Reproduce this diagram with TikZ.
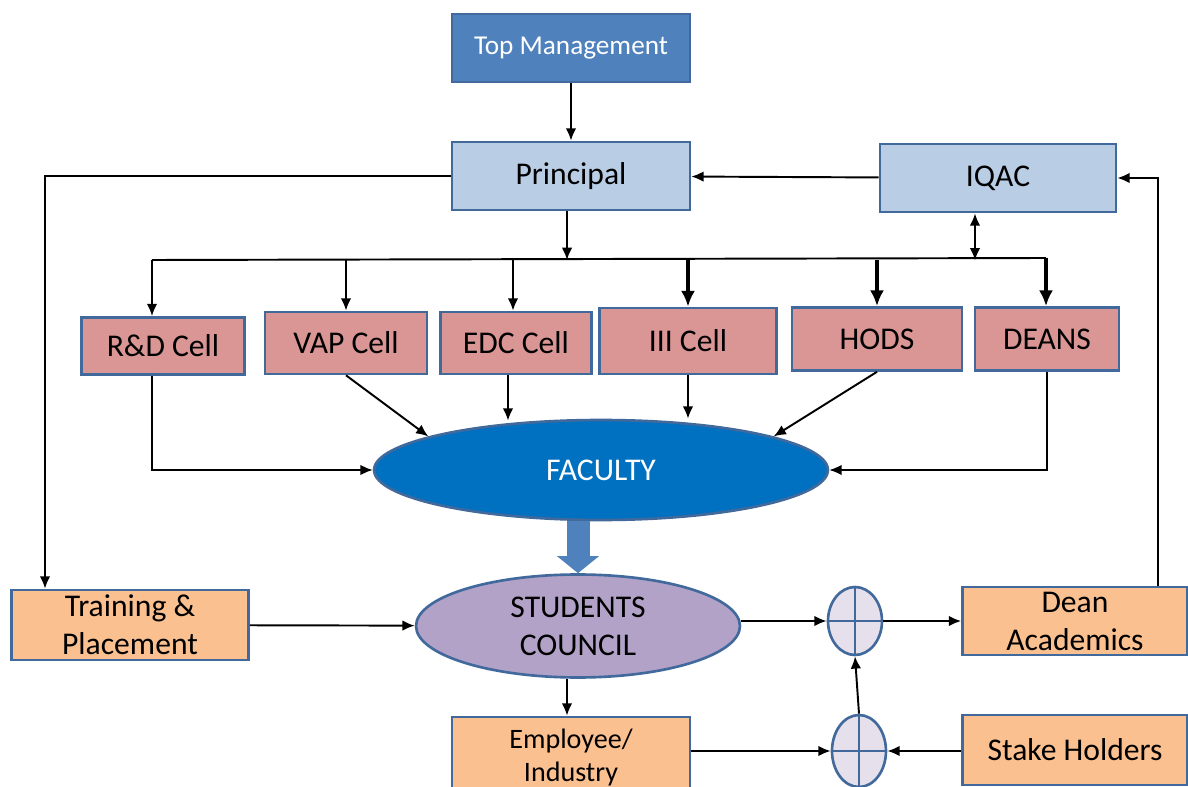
\documentclass[tikz,border=0pt]{standalone}
\usepackage{fontspec}
\setmainfont{Carlito}
\usetikzlibrary{arrows.meta, shapes.geometric, positioning, calc}
\definecolor{topblue}{HTML}{4F81BD}
\definecolor{edgeblue}{HTML}{41699C}
\definecolor{lightblue}{HTML}{B9CDE5}
\definecolor{cellpink}{HTML}{D99694}
\definecolor{orangefill}{HTML}{FAC090}
\definecolor{facblue}{HTML}{0070C0}
\definecolor{purplefill}{HTML}{B3A2C7}
\definecolor{plusfill}{HTML}{E6E0EC}

\begin{document}
\begin{tikzpicture}[x=0.02cm, y=-0.02cm,
	every node/.style={font=\fontsize{18}{21.6}\selectfont, align=center, inner sep=0pt},
	box/.style={rectangle, draw=edgeblue, line width=1.5pt},
	bluebox/.style={box, fill=lightblue, minimum width=4.76cm, minimum height=1.36cm},
	cellbox/.style={box, fill=cellpink},
	orangebox/.style={box, fill=orangefill},
	oval/.style={ellipse, draw=edgeblue, line width=1.5pt},
	plusnode/.style={ellipse, draw=edgeblue, fill=plusfill, line width=1.5pt,
		minimum width=1.08cm, path picture={
			\draw[edgeblue, line width=1.5pt] (path picture bounding box.north) -- (path picture bounding box.south);
			\draw[edgeblue, line width=1.5pt] (path picture bounding box.west) -- (path picture bounding box.east);}},
	arr/.style={line width=1.1pt, -{Latex[length=7pt, width=6pt]}},
	thickarr/.style={line width=2.4pt, -{Latex[length=9pt, width=8pt]}},
	blockarr/.style={line width=0.46cm, topblue, -{Triangle[length=0.34cm, width=0.82cm]}}]
	\useasboundingbox (0,0) rectangle (1188,787);
	
	% top part
	\node[box, fill=topblue, text=white, minimum width=4.76cm, minimum height=1.36cm,
		font=\fontsize{15.5}{18}\selectfont] (top) at (571,48) {Top Management};
	\node[bluebox] (pr) at (571,176) {Principal};
	\node[bluebox, minimum width=4.72cm] (iqac) at (998,178) {IQAC};
	
	% cells
	\node[cellbox, minimum width=3.26cm, minimum height=1.14cm] (rd) at (163,346) {R\&D Cell};
	\node[cellbox, minimum width=3.24cm, minimum height=1.24cm] (vap) at (346,343) {VAP Cell};
	\node[cellbox, minimum width=3.02cm, minimum height=1.24cm] (edc) at (516,343) {EDC Cell};
	\node[cellbox, minimum width=3.54cm, minimum height=1.32cm] (iii) at (688,341) {III Cell};
	\node[cellbox, minimum width=3.40cm, minimum height=1.26cm] (hods) at (877,339) {HODS};
	\node[cellbox, minimum width=2.88cm, minimum height=1.26cm] (deans) at (1047,339) {DEANS};
	
	\node[oval, fill=facblue, text=white, minimum width=9.08cm, minimum height=2cm,
		font=\fontsize{18}{21}\selectfont] (fac) at (601,470) {FACULTY};
	
	% lower part
	\node[oval, fill=purplefill, minimum width=6.48cm, minimum height=2.06cm] (sc) at (578,626) {STUDENTS\\COUNCIL};
	\node[orangebox, minimum width=4.74cm, minimum height=1.4cm] (tp) at (130,625) {Training \&\\Placement};
	\node[plusnode, minimum height=1.36cm] (plus1) at (855,621) {};
	\node[orangebox, minimum width=4.5cm, minimum height=1.36cm] (da) at (1075,621) {Dean\\Academics};
	\node[orangebox, minimum width=4.76cm, minimum height=1.6cm, text depth=2pt,
		font=\fontsize{16}{19}\selectfont] (emp) at (571,757) {Employee/\\Industry};
	\node[plusnode, minimum height=1.44cm] (plus2) at (859,751) {};
	\node[orangebox, minimum width=4.5cm, minimum height=1.4cm] (sh) at (1075,750) {Stake Holders};
	
	\coordinate (busL) at (152,260);
	\coordinate (busR) at (1046,258);
	
	% connectors
	\draw[arr] (top) -- (pr);
	\draw[arr] ($(pr.south)+(-4,0)$) -- ($(pr.south |- busL)+(-4,0)$);
	\draw[line width=1.1pt] (busL) -- (busR);
	\draw[arr, {Latex[length=7pt, width=6pt]}-{Latex[length=7pt, width=6pt]}] ($(iqac.south)+(-23,0)$) -- ($(iqac.south)+(-23,47)$);
	\draw[arr] (busL) -- (busL |- rd.north);
	\draw[arr] (busL -| vap.north) -- (vap.north);
	\draw[arr] ($(busL -| edc.north)+(-3,0)$) -- ($(edc.north)+(-3,0)$);
	\draw[thickarr] (busL -| iii.north) -- (iii.north);
	\draw[thickarr] (busL -| hods.north) -- (hods.north);
	\draw[thickarr] (busR) -- (busR |- deans.north);
	\draw[arr] (iqac) -- (pr);
	
	\draw[arr] (busL |- rd.south) |- (fac.west);
	\draw[arr] (vap.south) -- (fac.169);
	\draw[arr] ($(edc.south)+(-8,0)$) -- ($(edc.south |- fac.north)+(-8,2)$);
	\draw[arr] (iii.south) -- (iii.south |- fac.north);
	\draw[arr] (hods.south) -- (fac.11);
	\draw[arr] (deans.south) |- (fac.east);
	
	\draw[blockarr] (fac.south -| sc.north) -- (sc.north);
	\draw[arr] (pr.west) -| ($(tp.north)+(-85,0)$);
	\draw[arr] (tp) -- (sc);
	\draw[arr] (plus1.west -| sc.east) -- (plus1.west);
	\draw[arr] (plus1.east) -- (da.west);
	\draw[arr] ($(sc.south)+(-11,0)$) -- ($(emp.north)+(-4,0)$);
	\draw[arr] (emp.east |- plus2.west) -- (plus2.west);
	\draw[arr] (sh.west |- plus2.east) -- (plus2.east);
	\draw[arr] (plus2.north) -- (plus1.south);
	\draw[arr] ($(da.north)+(83,0)$) |- (iqac.east);
\end{tikzpicture}
\end{document}
